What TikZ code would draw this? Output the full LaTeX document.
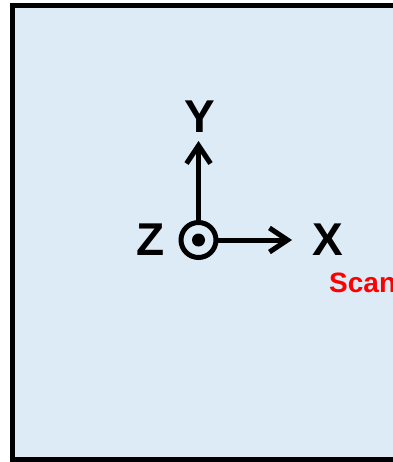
\documentclass[tikz,border=0pt]{standalone}
\usepackage{fontspec}
\setmainfont{Liberation Sans}
\usetikzlibrary{arrows.meta,positioning}
\definecolor{panelblue}{HTML}{DDEBF7}
\begin{document}
\begin{tikzpicture}[x=1pt,y=-1pt,
axis/.style={line width=5pt,-{Straight Barb[length=18pt,width=24pt,line width=5pt]}},
axislabel/.style={font=\fontsize{46}{46}\selectfont\bfseries,inner sep=0pt,outer sep=0pt},
zsym/.style={draw,circle,line width=5pt,minimum size=35pt,inner sep=0pt,outer sep=0pt}]
\useasboundingbox (0,0) rectangle (392,462);
\draw[line width=5pt,fill=panelblue] (12.5,6) rectangle (420,459.5);
\node[zsym] (o) at (198.5,240) {};
\node[circle,fill,minimum size=13pt,inner sep=0pt] (dot) at (o) {};
\coordinate (xtip) at (292,240);
\coordinate (ytip) at (198.5,141);
\draw[axis] (o) -- (xtip);
\draw[axis] (o) -- (ytip);
\node[axislabel] (ylab) at (200,117) {Y};
\node[axislabel] (xlab) at (327.5,239.5) {X};
\node[axislabel] (zlab) at (151,239.5) {Z};
\node[font=\fontsize{28}{28}\selectfont\bfseries,text=red,anchor=base west,inner sep=0pt] (scan) at (329,292) {Scan};
\end{tikzpicture}
\end{document}
